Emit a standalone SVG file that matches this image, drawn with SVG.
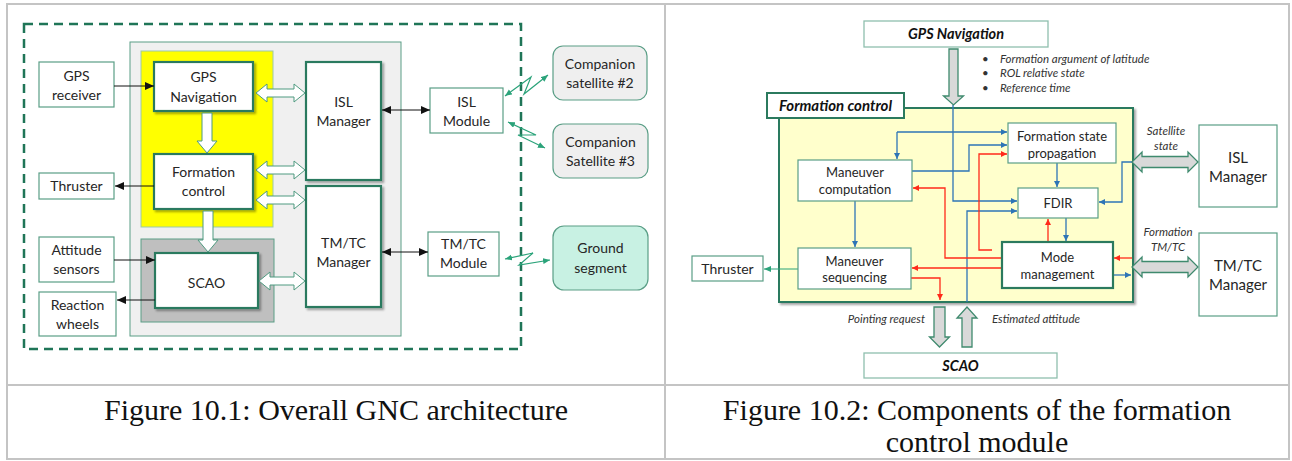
<svg xmlns="http://www.w3.org/2000/svg" width="1292" height="461" viewBox="0 0 1292 461">
<style>
.t{font-family:Lato,"Liberation Sans",sans-serif;font-size:14px;fill:#262626;text-anchor:middle}
.t13{font-family:Lato,"Liberation Sans",sans-serif;font-size:13px;fill:#262626;text-anchor:middle}
.t15{font-family:Lato,"Liberation Sans",sans-serif;font-size:15px;fill:#262626;text-anchor:middle}
.bi{font-family:Lato,"Liberation Sans",sans-serif;font-size:15px;font-weight:bold;font-style:italic;fill:#111;text-anchor:middle}
.it{font-family:Lato,"Liberation Sans",sans-serif;font-size:11.5px;font-style:italic;fill:#333}
.cap{font-family:"Liberation Serif",serif;font-size:30px;fill:#111;text-anchor:middle}
.thick{fill:#fff;stroke:#2b7a5e;stroke-width:2.2}
.thin{fill:#fff;stroke:#5a9e86;stroke-width:1.2}
.hol{fill:#fff;stroke:#4f9a80;stroke-width:1}
.gar{fill:#d9d9d9;stroke:#3f8a6e;stroke-width:1.3}
.blk{stroke:#111;stroke-width:1;fill:none}
.grn{stroke:#2ba37a;stroke-width:1.2;fill:none}
.blu{stroke:#2e75b6;stroke-width:1.3;fill:none}
.red{stroke:#ff2a1a;stroke-width:1.3;fill:none}
.grid{stroke:#c4c4c4;stroke-width:2;fill:none}
</style>
<defs>
<filter id="sh" x="-10%" y="-10%" width="130%" height="130%"><feDropShadow dx="2" dy="2" stdDeviation="1.2" flood-color="#000" flood-opacity="0.35"/></filter>
<marker id="mb" markerUnits="userSpaceOnUse" markerWidth="10" markerHeight="10" refX="9" refY="4" orient="auto-start-reverse"><path d="M0,0 L9,4 L0,8 Z" fill="#111"/></marker>
<marker id="mg" markerUnits="userSpaceOnUse" markerWidth="8" markerHeight="8" refX="7" refY="3" orient="auto-start-reverse"><path d="M0,0 L7,3 L0,6 Z" fill="#2ba37a"/></marker>
<marker id="mu" markerUnits="userSpaceOnUse" markerWidth="8" markerHeight="8" refX="6" refY="3" orient="auto-start-reverse"><path d="M0,0 L6,3 L0,6 Z" fill="#2e75b6"/></marker>
<marker id="mr" markerUnits="userSpaceOnUse" markerWidth="8" markerHeight="8" refX="6" refY="3" orient="auto-start-reverse"><path d="M0,0 L6,3 L0,6 Z" fill="#ff2a1a"/></marker>
</defs>
<rect width="1292" height="461" fill="#fff"/>
<g id="table">
<rect class="grid" x="7" y="4" width="1282" height="455"/>
<line class="grid" x1="665" y1="4" x2="665" y2="459"/>
<line class="grid" x1="7" y1="385" x2="1289" y2="385"/>
<text class="cap" x="336" y="420">Figure 10.1: Overall GNC architecture</text>
<text class="cap" x="977" y="420">Figure 10.2: Components of the formation</text>
<text class="cap" x="977" y="452">control module</text>
</g>
<g id="left-panels">
<rect x="24" y="24" width="497" height="325" fill="none" stroke="#1f7557" stroke-width="2.5" stroke-dasharray="9,6"/>
<rect x="130" y="42" width="271" height="294" fill="#f0f0f0" stroke="#5a9e86" stroke-width="1"/>
<rect x="141" y="51" width="132" height="176" fill="#ffff00" stroke="#9cc9a8" stroke-width="1"/>
<rect x="141" y="239" width="133" height="83" fill="#bfbfbf" stroke="#5a9e86" stroke-width="1"/>
</g>
<g id="gps-receiver"><rect class="thin" x="39" y="62" width="75" height="45"/><text class="t" x="76.5" y="81">GPS</text><text class="t" x="76.5" y="100">receiver</text></g>
<g id="thruster-l"><rect class="thin" x="39" y="173" width="75" height="26"/><text class="t" x="76.5" y="191">Thruster</text></g>
<g id="attitude-sensors"><rect class="thin" x="39" y="237" width="75" height="45"/><text class="t" x="76.5" y="255">Attitude</text><text class="t" x="76.5" y="274">sensors</text></g>
<g id="reaction-wheels"><rect class="thin" x="39" y="292" width="77" height="44"/><text class="t" x="77.5" y="310">Reaction</text><text class="t" x="77.5" y="329">wheels</text></g>
<g id="gps-navigation"><rect class="thick" x="154" y="62" width="99" height="49" filter="url(#sh)"/><text class="t" x="203.5" y="82">GPS</text><text class="t" x="203.5" y="102">Navigation</text></g>
<g id="formation-control"><rect class="thick" x="154" y="154" width="99" height="55" filter="url(#sh)"/><text class="t" x="203.5" y="177">Formation</text><text class="t" x="203.5" y="196">control</text></g>
<g id="scao-l"><rect class="thick" x="155" y="253" width="103" height="55" filter="url(#sh)"/><text class="t" x="206.5" y="288">SCAO</text></g>
<g id="isl-manager-l"><rect class="thick" x="306" y="62" width="75" height="118" filter="url(#sh)"/><text class="t" x="343.5" y="107">ISL</text><text class="t" x="343.5" y="126">Manager</text></g>
<g id="tmtc-manager-l"><rect class="thick" x="306" y="186" width="75" height="121" filter="url(#sh)"/><text class="t" x="343.5" y="248">TM/TC</text><text class="t" x="343.5" y="267">Manager</text></g>
<g id="isl-module"><rect class="thin" x="430" y="88" width="73" height="45"/><text class="t" x="466.5" y="107">ISL</text><text class="t" x="466.5" y="126">Module</text></g>
<g id="tmtc-module"><rect class="thin" x="428" y="232" width="71" height="44"/><text class="t" x="463.5" y="249">TM/TC</text><text class="t" x="463.5" y="268">Module</text></g>
<g id="companion-2"><rect x="553" y="46" width="94" height="54" rx="10" fill="#efefef" stroke="#5a9e86" stroke-width="1.2"/><text class="t" x="600" y="69">Companion</text><text class="t" x="600" y="88">satellite #2</text></g>
<g id="companion-3"><rect x="553" y="124" width="95" height="54" rx="10" fill="#efefef" stroke="#5a9e86" stroke-width="1.2"/><text class="t" x="600.5" y="147">Companion</text><text class="t" x="600.5" y="166">Satellite #3</text></g>
<g id="ground-segment"><rect x="553" y="226" width="95" height="64" rx="11" fill="#c8f1e3" stroke="#5a9e86" stroke-width="1.2"/><text class="t" x="600.5" y="253">Ground</text><text class="t" x="600.5" y="273">segment</text></g>
<g id="left-connectors">
<line class="blk" x1="114" y1="86" x2="154" y2="86" marker-end="url(#mb)"/>
<line class="blk" x1="154" y1="186" x2="115" y2="186" marker-end="url(#mb)"/>
<line class="blk" x1="114" y1="260" x2="155" y2="260" marker-end="url(#mb)"/>
<line class="blk" x1="155" y1="300" x2="117" y2="300" marker-end="url(#mb)"/>
<line class="blk" x1="382" y1="110" x2="430" y2="110" marker-start="url(#mb)" marker-end="url(#mb)"/>
<line class="blk" x1="382" y1="252" x2="428" y2="252" marker-start="url(#mb)" marker-end="url(#mb)"/>
<polyline class="grn" points="505,96 531,77 524,94 548,75" marker-start="url(#mg)" marker-end="url(#mg)"/>
<polyline class="grn" points="508,122 536,135 518,135 545,148" marker-start="url(#mg)" marker-end="url(#mg)"/>
<polyline class="grn" points="505,259 533,253 519,265 550,260" marker-start="url(#mg)" marker-end="url(#mg)"/>
<path class="hol" d="M256,93 L267,84 L267,89 L294,89 L294,84 L305,93 L294,102 L294,97 L267,97 L267,102 Z"/>
<path class="hol" d="M256,170 L267,161 L267,166 L294,166 L294,161 L305,170 L294,179 L294,174 L267,174 L267,179 Z"/>
<path class="hol" d="M256,200 L267,191 L267,196 L294,196 L294,191 L305,200 L294,209 L294,204 L267,204 L267,209 Z"/>
<path class="hol" d="M259,281 L270,272 L270,277 L294,277 L294,272 L305,281 L294,290 L294,285 L270,285 L270,290 Z"/>
<path class="hol" d="M202,113 L212,113 L212,141 L217,141 L207,153 L197,141 L202,141 Z"/>
<path class="hol" d="M203,211 L213,211 L213,240 L218,240 L208,252 L198,240 L203,240 Z"/>
</g>
<g id="gps-navigation-r"><rect x="864" y="21" width="184" height="26" fill="#fff" stroke="#8fbfae" stroke-width="1.3"/><text class="bi" x="956" y="39" style="font-size:14.5px">GPS Navigation</text></g>
<g id="bullets">
<text class="it" x="982" y="63">•</text><text class="it" x="1000" y="63">Formation argument of latitude</text>
<text class="it" x="982" y="77">•</text><text class="it" x="1000" y="77">ROL relative state</text>
<text class="it" x="982" y="92">•</text><text class="it" x="1000" y="92">Reference time</text>
</g>
<g id="formation-panel">
<rect x="779" y="108" width="354" height="194" fill="#ffffcc" stroke="#2b7a5e" stroke-width="2" filter="url(#sh)"/>
<rect x="767" y="93" width="137" height="25" fill="#fff" stroke="#2b7a5e" stroke-width="2"/>
<text class="bi" x="835.5" y="111">Formation control</text>
</g>
<g id="right-connectors">
<polyline class="blu" points="953,105 953,201 1017,201" marker-end="url(#mu)"/>
<polyline class="blu" points="897,132 1007,132" marker-end="url(#mu)"/>
<polyline class="blu" points="897,132 897,159" marker-end="url(#mu)"/>
<polyline class="blu" points="912,171 969,171 969,145 1007,145" marker-end="url(#mu)"/>
<polyline class="blu" points="967,302 967,211 1017,211" marker-end="url(#mu)"/>
<polyline class="blu" points="1057,163 1057,187" marker-end="url(#mu)"/>
<polyline class="blu" points="1066,218 1066,241" marker-end="url(#mu)"/>
<polyline class="blu" points="1133,162 1122,162 1122,202 1099,202" marker-end="url(#mu)"/>
<polyline class="blu" points="1113,275 1131,275" marker-end="url(#mu)"/>
<polyline class="blu" points="855,201 855,247" marker-end="url(#mu)"/>
<polyline class="red" points="992,250 979,250 979,154 1007,154" marker-end="url(#mr)"/>
<polyline class="red" points="1002,258 945,258 945,188 913,188" marker-end="url(#mr)"/>
<polyline class="red" points="1002,268 912,268" marker-end="url(#mr)"/>
<polyline class="red" points="911,278 940,278 940,300" marker-end="url(#mr)"/>
<polyline class="red" points="1048,242 1048,219" marker-end="url(#mr)"/>
<polyline class="red" points="1132,258 1114,258" marker-end="url(#mr)"/>
<line class="grn" x1="798" y1="269" x2="764" y2="269" marker-end="url(#mg)"/>
<path class="gar" d="M949,49 L958,49 L958,96 L963.5,96 L953.5,105 L943.5,96 L949,96 Z"/>
<path class="gar" d="M934,307 L945,307 L945,337 L949.5,337 L939.5,347 L929.5,337 L934,337 Z"/>
<path class="gar" d="M962,347 L972,347 L972,318 L977,318 L967,307 L957,318 L962,318 Z"/>
<path class="gar" d="M1132,162 L1142,152 L1142,156.5 L1188,156.5 L1188,152 L1198,162 L1188,172 L1188,167.5 L1142,167.5 L1142,172 Z"/>
<path class="gar" d="M1132,267 L1142,257 L1142,261.5 L1188,261.5 L1188,257 L1198,267 L1188,277 L1188,272.5 L1142,272.5 L1142,277 Z"/>
</g>
<g id="maneuver-computation"><rect class="thin" x="798" y="160" width="114" height="41"/><text class="t13" x="855" y="176.5">Maneuver</text><text class="t13" x="855" y="193.5">computation</text></g>
<g id="maneuver-sequencing"><rect class="thin" x="798" y="248" width="113" height="41"/><text class="t13" x="854.5" y="265.5">Maneuver</text><text class="t13" x="854.5" y="281.5">sequencing</text></g>
<g id="thruster-r"><rect class="thin" x="692" y="256" width="71" height="25"/><text class="t" x="727.5" y="274">Thruster</text></g>
<g id="formation-state-propagation"><rect class="thin" x="1008" y="123" width="108" height="40"/><text class="t13" x="1062" y="140.5">Formation state</text><text class="t13" x="1062" y="157.5">propagation</text></g>
<g id="fdir"><rect class="thin" x="1018" y="188" width="80" height="30"/><text class="t13" x="1058" y="207.5">FDIR</text></g>
<g id="mode-management"><rect class="thick" x="1002" y="242" width="111" height="46" stroke-width="1.8"/><text class="t13" x="1057.5" y="261.5">Mode</text><text class="t13" x="1057.5" y="278.5">management</text></g>
<g id="scao-r"><rect x="864" y="353" width="193" height="25" fill="#fff" stroke="#8fbfae" stroke-width="1.3"/><text class="bi" x="960.5" y="370.5" style="font-size:14.5px">SCAO</text></g>
<g id="isl-manager-r"><rect class="thin" x="1199" y="125" width="78" height="82"/><text class="t15" x="1238" y="162.5">ISL</text><text class="t15" x="1238" y="181.5">Manager</text></g>
<g id="tmtc-manager-r"><rect class="thin" x="1199" y="233" width="78" height="83"/><text class="t15" x="1238" y="270.5">TM/TC</text><text class="t15" x="1238" y="289.5">Manager</text></g>
<g id="labels-r">
<text class="it" x="1166" y="135" text-anchor="middle">Satellite</text>
<text class="it" x="1166" y="150" text-anchor="middle">state</text>
<text class="it" x="1168" y="236" text-anchor="middle">Formation</text>
<text class="it" x="1168" y="251" text-anchor="middle">TM/TC</text>
<text class="it" x="925" y="323" text-anchor="end">Pointing request</text>
<text class="it" x="992" y="323">Estimated attitude</text>
</g>
</svg>
